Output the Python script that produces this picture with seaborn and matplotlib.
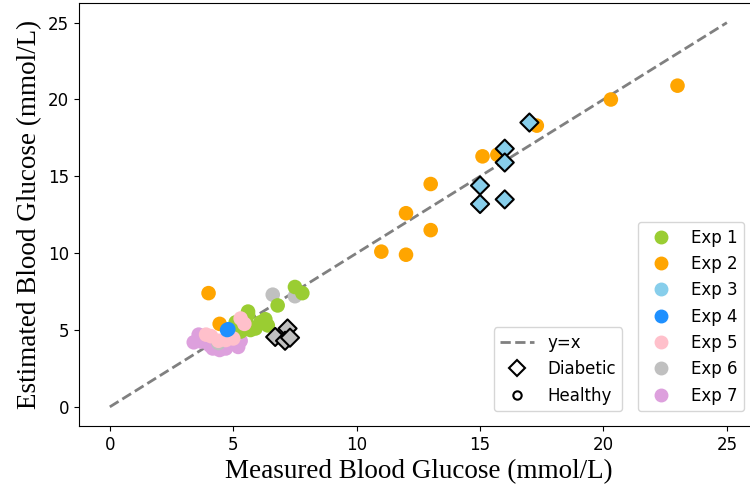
import matplotlib
matplotlib.use("Agg")
import matplotlib.pyplot as plt
from matplotlib.lines import Line2D
import seaborn as sns
import pandas as pd

# ---- data ----
exp1_x = [7.5, 7.8, 6.8, 5.6, 6.1, 6.4, 5.1, 5.3, 5.7, 5.9, 5.6, 6.3, 5.2, 5.6]
exp1_y = [7.8, 7.4, 6.6, 6.0, 5.5, 5.3, 5.5, 4.9, 5.0, 5.1, 5.3, 5.7, 5.0, 6.2]
exp2_x = [4.0, 4.45, 23.0, 20.3, 17.3, 15.1, 15.7, 13.0, 12.0, 13.0, 11.0, 12.0]
exp2_y = [7.4, 5.4, 20.9, 20.0, 18.3, 16.3, 16.4, 14.5, 12.6, 11.5, 10.1, 9.9]
exp3_x = [17.0, 16.0, 16.0, 15.0, 15.0, 16.0]
exp3_y = [18.5, 16.8, 15.9, 14.4, 13.2, 13.5]
exp4_x = [4.75, 4.8]
exp4_y = [5.0, 5.05]
exp5_x = [5.3, 4.1, 3.9, 4.7, 4.4, 5.0, 5.45]
exp5_y = [5.75, 4.6, 4.7, 4.35, 4.3, 4.45, 5.4]
exp6_healthy_x = [6.6, 7.5, 4.4]
exp6_healthy_y = [7.3, 7.2, 4.15]
exp6_diab_x = [6.7, 7.2, 7.1, 7.3]
exp6_diab_y = [4.55, 5.1, 4.3, 4.5]
exp7_x = [3.4, 3.6, 3.7, 4.05, 4.17, 4.45, 4.7, 4.98, 5.2, 5.3]
exp7_y = [4.2, 4.7, 4.25, 4.0, 3.8, 3.7, 3.8, 4.2, 3.9, 4.3]

exp_names = ["Exp 1", "Exp 2", "Exp 3", "Exp 4", "Exp 5", "Exp 6", "Exp 7"]
exp_colors = ["yellowgreen", "orange", "skyblue", "dodgerblue", "pink", "silver", "plum"]
palette = dict(zip(exp_names, exp_colors))

def frame(xs, ys, name, cond):
    return pd.DataFrame({"measured": xs, "estimated": ys, "exp": name, "cond": cond})

healthy = [
    frame(exp7_x, exp7_y, "Exp 7", "Healthy"),
    frame(exp6_healthy_x, exp6_healthy_y, "Exp 6", "Healthy"),
    frame(exp1_x, exp1_y, "Exp 1", "Healthy"),
    frame(exp2_x, exp2_y, "Exp 2", "Healthy"),
    frame(exp5_x, exp5_y, "Exp 5", "Healthy"),
    frame(exp4_x, exp4_y, "Exp 4", "Healthy"),
]
diabetic = [
    frame(exp3_x, exp3_y, "Exp 3", "Diabetic"),
    frame(exp6_diab_x, exp6_diab_y, "Exp 6", "Diabetic"),
]

fig = plt.figure(figsize=(7.5, 4.92), dpi=100)
ax = fig.add_axes([0.1053, 0.134, 0.905, 0.859])

ref = [0, 25]
ax.plot(ref, ref, linestyle="--", color="gray", linewidth=2, zorder=1)

for df in healthy:
    sns.scatterplot(data=df, x="measured", y="estimated", hue="exp", palette=palette,
                    marker="o", s=110, edgecolor="none", linewidth=0, legend=False,
                    ax=ax, zorder=2)
for df in diabetic:
    sns.scatterplot(data=df, x="measured", y="estimated", hue="exp", palette=palette,
                    marker="D", s=85, edgecolor="black", linewidth=1.5, legend=False,
                    ax=ax, zorder=3)

ax.set_xticks([0, 5, 10, 15, 20, 25])
ax.set_yticks([0, 5, 10, 15, 20, 25])
ax.tick_params(labelsize=12)
ax.set_xlabel("Measured Blood Glucose (mmol/L)", fontsize=19.5, family="Liberation Serif")
ax.set_ylabel("Estimated Blood Glucose (mmol/L)", fontsize=19.5, family="Liberation Serif")

exp_handles = [Line2D([], [], marker="o", linestyle="none", color=c, markersize=9)
               for c in exp_colors]
leg1 = ax.legend(exp_handles, exp_names, loc="lower left", bbox_to_anchor=(0.823, 0.035),
                 borderaxespad=0, fontsize=12)
ax.add_artist(leg1)

style_handles = [
    Line2D([], [], linestyle="--", color="gray", linewidth=2),
    Line2D([], [], marker="D", linestyle="none", markerfacecolor="white",
           markeredgecolor="black", markeredgewidth=1.5, markersize=8),
    Line2D([], [], marker="o", linestyle="none", markerfacecolor="white",
           markeredgecolor="black", markeredgewidth=1.5, markersize=6),
]
ax.legend(style_handles, ["y=x", "Diabetic", "Healthy"], loc="lower left",
          bbox_to_anchor=(0.611, 0.035), borderaxespad=0, fontsize=12)

fig.savefig("out.png", dpi=100)
